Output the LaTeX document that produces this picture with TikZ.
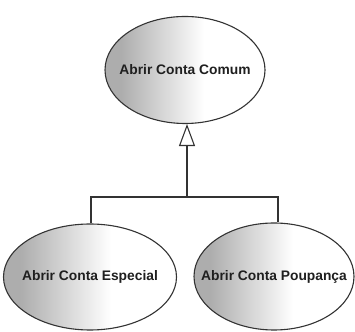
\documentclass[tikz,border=0pt]{standalone}
\usepackage{fontspec}
\setmainfont{Liberation Sans}
\usetikzlibrary{shapes.geometric,arrows.meta}
% grey at the left edge fading to white towards the right
\pgfdeclarehorizontalshading{usecasefill}{100bp}{color(0bp)=(black!32); color(30bp)=(black!32); color(56bp)=(white); color(100bp)=(white)}
\begin{document}
\begin{tikzpicture}[x=1pt,y=1pt,
  usecase/.style={ellipse, draw=black!80, line width=1.1pt, inner sep=0pt,
    shading=usecasefill,
    font=\bfseries\fontsize{13.8}{16}\selectfont, text=black!88},
  link/.style={draw=black!80, line width=1.1pt}]
  \useasboundingbox (0,0) rectangle (355,331);
  % use cases (label boxed to zero width so the ellipse keeps its given size)
  \node[usecase, minimum width=160pt, minimum height=107pt] (comum) at (185,261) {\makebox[0pt]{Abrir Conta Comum}};
  \node[usecase, minimum width=173pt, minimum height=106pt] (especial) at (90,54) {\makebox[0pt]{Abrir Conta Especial}};
  \node[usecase, minimum width=160pt, minimum height=107pt] (poupanca) at (274,54.5) {\makebox[0pt]{Abrir Conta Poupança}};
  % generalization
  \coordinate (bar) at (187,134);
  \coordinate (barL) at (91,134);
  \coordinate (barR) at (278,134);
  \draw[link, -{Triangle[open, length=22pt, width=16pt, line width=1.1pt]}] (bar) -- (bar |- comum.south);
  \draw[link] (barL |- especial.north) -- (barL) -- (barR) -- (barR |- poupanca.north);
\end{tikzpicture}
\end{document}
